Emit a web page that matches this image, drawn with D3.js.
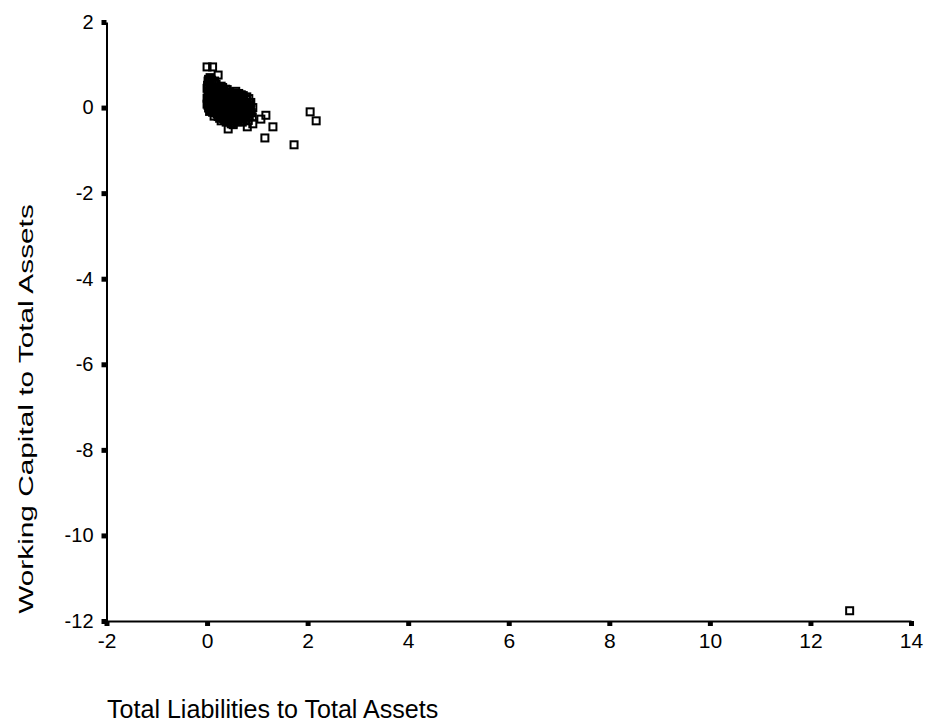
<!DOCTYPE html>
<html>
<head>
<meta charset="utf-8">
<script src="https://cdnjs.cloudflare.com/ajax/libs/d3/7.8.5/d3.min.js"></script>
<style>
  html, body { margin: 0; padding: 0; background: #fff; }
  svg text { font-family: "Liberation Sans", Arial, sans-serif; fill: #000; }
</style>
</head>
<body>
<svg id="chart" width="930" height="725"></svg>
<script>
// Total liabilities / total assets (x) against working capital / total assets (y)
const liabilitiesRatio = [
  0.00, 0.11, 0.22, 0.02, 0.05, 0.00, 0.03, 0.08, 0.00, 0.04, 0.02, 0.06, 0.00,
  0.10, 0.12, 0.15, 0.18, 0.14, 0.10, 0.12, 0.16, 0.22, 0.25, 0.28, 0.20, 0.24,
  0.30, 0.27, 0.20, 0.33, 0.35, 0.38, 0.32, 0.36, 0.30, 0.40, 0.42, 0.45, 0.48,
  0.44, 0.42, 0.50, 0.52, 0.55, 0.50, 0.58, 0.60, 0.58, 0.62, 0.65, 0.68, 0.70,
  0.66, 0.72, 0.75, 0.78, 0.80, 0.76, 0.85, 0.88, 0.90, 0.82, 0.55, 0.48, 0.35,
  0.25, 0.15, 0.08, 0.06, 0.10, 0.18, 0.26, 0.40, 0.46, 0.62, 0.70, 0.54, 0.34,
  0.05, 0.14, 0.22, 0.30, 0.64, 0.74,
  0.03, 0.09, 0.13, 0.06,
  0.01, 0.08, 0.16, 0.19, 0.26, 0.31, 0.37,
  0.02, 0.11, 0.17, 0.23, 0.29, 0.41, 0.47, 0.53, 0.57, 0.63, 0.68,
  0.05, 0.09, 0.15, 0.21, 0.27, 0.33, 0.39, 0.43, 0.49, 0.56, 0.61, 0.67, 0.73, 0.79, 0.83,
  0.01, 0.07, 0.13, 0.19, 0.23, 0.28, 0.34, 0.37, 0.43, 0.47, 0.53, 0.57, 0.63, 0.69, 0.73, 0.77, 0.83, 0.87,
  0.03, 0.09, 0.14, 0.21, 0.25, 0.31, 0.38, 0.45, 0.51, 0.56, 0.61, 0.66, 0.73, 0.79, 0.86, 0.91,
  0.05, 0.11, 0.19, 0.24, 0.29, 0.34, 0.39, 0.46, 0.53, 0.57, 0.64, 0.69, 0.74, 0.81, 0.86,
  0.14, 0.22, 0.28, 0.33, 0.39, 0.45, 0.51, 0.56, 0.61, 0.68, 0.72, 0.78, 0.84,
  0.28, 0.38, 0.46, 0.52, 0.60, 0.70, 0.76,
  0.42, 0.52, 0.80, 0.91, 1.07, 1.17, 1.31, 1.15, 1.73, 2.05, 2.17, 12.78
];
const workingCapitalRatio = [
  0.95, 0.95, 0.76, 0.62, 0.55, 0.45, 0.38, 0.30, 0.22, 0.15, 0.05, -0.02, 0.08,
  0.48, 0.40, 0.62, 0.55, 0.25, 0.12, 0.00, -0.08, 0.45, 0.35, 0.50, 0.20, 0.08,
  0.25, -0.05, -0.15, 0.40, 0.15, 0.30, 0.02, -0.12, -0.22, 0.05, 0.22, 0.35, 0.12,
  -0.08, -0.28, 0.25, 0.00, 0.18, -0.15, 0.30, 0.08, -0.20, -0.05, 0.22, 0.12, -0.10,
  -0.25, 0.28, 0.05, 0.18, -0.05, -0.18, 0.10, -0.12, -0.22, -0.30, -0.32, -0.38, -0.30,
  -0.25, -0.12, -0.05, 0.70, 0.60, 0.38, 0.28, 0.42, 0.02, 0.32, 0.20, 0.10, -0.02,
  0.30, 0.36, -0.02, 0.12, -0.12, -0.02,
  0.66, 0.64, 0.58, 0.50,
  0.52, 0.44, 0.46, 0.40, 0.44, 0.47, 0.43,
  0.33, 0.34, 0.31, 0.37, 0.33, 0.36, 0.30, 0.34, 0.38, 0.33, 0.30,
  0.24, 0.20, 0.18, 0.27, 0.21, 0.23, 0.19, 0.27, 0.22, 0.26, 0.21, 0.26, 0.20, 0.25, 0.21,
  0.14, 0.10, 0.07, 0.11, 0.15, 0.09, 0.07, 0.12, 0.10, 0.05, 0.13, 0.07, 0.11, 0.04, 0.13, 0.08, 0.04, 0.12,
  -0.01, 0.02, -0.03, 0.03, -0.02, -0.06, -0.01, 0.01, -0.07, -0.03, 0.01, -0.04, -0.02, 0.02, -0.03, 0.00,
  -0.09, -0.11, -0.08, -0.13, -0.10, -0.17, -0.09, -0.14, -0.11, -0.13, -0.15, -0.08, -0.12, -0.14, -0.08,
  -0.20, -0.21, -0.17, -0.26, -0.21, -0.24, -0.27, -0.22, -0.28, -0.19, -0.26, -0.23, -0.19,
  -0.31, -0.34, -0.31, -0.36, -0.33, -0.34, -0.31,
  -0.50, -0.40, -0.45, -0.38, -0.27, -0.18, -0.45, -0.71, -0.87, -0.10, -0.31, -11.76
];
const xTicks = [-2, 0, 2, 4, 6, 8, 10, 12, 14];
const yTicks = [2, 0, -2, -4, -6, -8, -10, -12];

const points = liabilitiesRatio.map((x, i) => ({ x, y: workingCapitalRatio[i] }));

const svg = d3.select("#chart");
const x = d3.scaleLinear().domain([-2, 14]).range([106.5, 911]);
const y = d3.scaleLinear().domain([-12, 2]).range([621, 22]);

// axes: short, heavy outward ticks, plain hyphen for negatives
const fmt = d => String(d);
const xAxis = d3.axisBottom(x).tickValues(xTicks).tickFormat(fmt)
  .tickSize(5).tickPadding(7).tickSizeOuter(0);
const yAxis = d3.axisLeft(y).tickValues(yTicks).tickFormat(fmt)
  .tickSize(5).tickPadding(8).tickSizeOuter(0);

const gx = svg.append("g").attr("transform", `translate(0,${y(-12)})`).call(xAxis);
const gy = svg.append("g").attr("transform", `translate(${x(-2)},0)`).call(yAxis);

[gx, gy].forEach(g => {
  g.select(".domain").attr("stroke", "#000").attr("stroke-width", 2);
  g.selectAll(".tick line").attr("stroke", "#000").attr("stroke-width", 5);
  g.selectAll(".tick text")
    .style("font-family", "'Liberation Sans', Arial, sans-serif")
    .attr("fill", "#000");
});
gx.selectAll(".tick text").style("font-size", "21px");
gy.selectAll(".tick text").style("font-size", "20px");

// markers: small open squares
const s = 7;
svg.append("g").selectAll("rect").data(points).join("rect")
  .attr("x", d => x(d.x) - s / 2)
  .attr("y", d => y(d.y) - s / 2)
  .attr("width", s)
  .attr("height", s)
  .attr("fill", "none")
  .attr("stroke", "#000")
  .attr("stroke-width", 2);

// axis titles
svg.append("text")
  .attr("transform", "translate(107,718) scale(0.965,1)")
  .style("font-size", "26px")
  .text("Total Liabilities to Total Assets");

svg.append("text")
  .attr("transform", "translate(33,409) rotate(-90) scale(1.42,1)")
  .attr("text-anchor", "middle")
  .style("font-size", "21px")
  .text("Working Capital to Total Assets");
</script>
</body>
</html>
